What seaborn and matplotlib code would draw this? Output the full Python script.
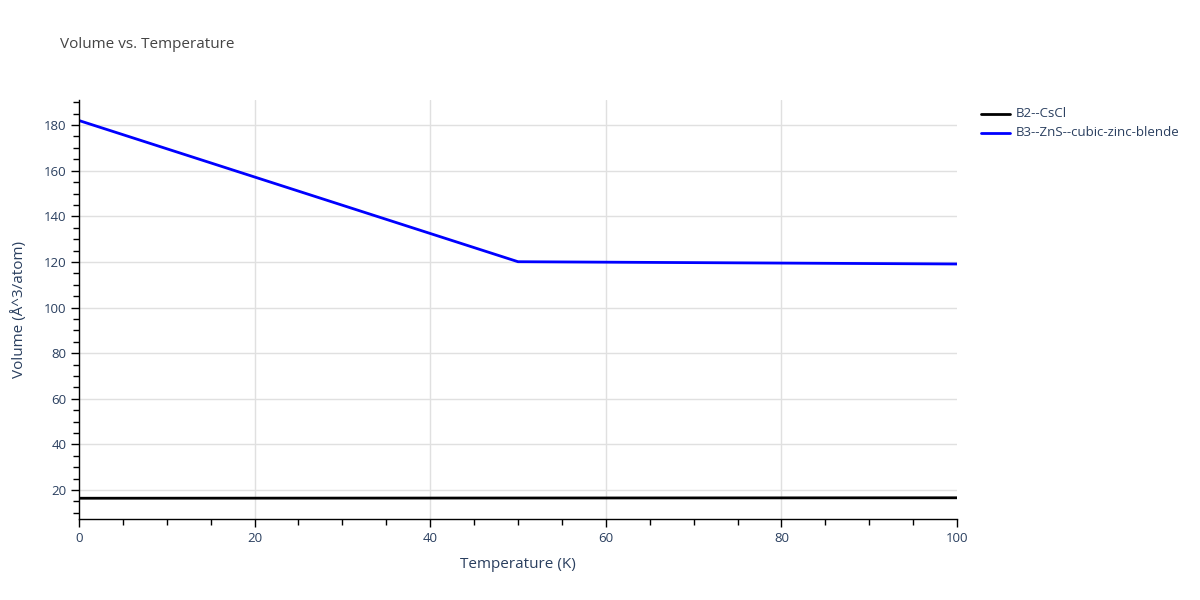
import matplotlib
matplotlib.use("Agg")
import matplotlib.pyplot as plt
import seaborn as sns
import pandas as pd
from matplotlib.ticker import MultipleLocator

# data
temps_b2 = [0, 50, 100]
vol_b2 = [16.4, 16.5, 16.6]
temps_b3 = [0, 50, 100]
vol_b3 = [182.0, 120.1, 119.1]
series_names = ["B2--CsCl", "B3--ZnS--cubic-zinc-blende"]
series_colors = ["black", "blue"]
x_ticks = [0, 20, 40, 60, 80, 100]
y_ticks = [20, 40, 60, 80, 100, 120, 140, 160, 180]

df = pd.concat([
    pd.DataFrame({"T": temps_b2, "V": vol_b2, "phase": series_names[0]}),
    pd.DataFrame({"T": temps_b3, "V": vol_b3, "phase": series_names[1]}),
])

sns.set_style("white")
plt.rcParams["font.family"] = ["Open Sans", "DejaVu Sans"]

fig = plt.figure(figsize=(12, 6), dpi=100)
ax = fig.add_axes([79 / 1200, 1 - 519 / 600, (957 - 79) / 1200, (519 - 100) / 600])

# grid drawn by hand, plotly skips the lines at the range edges
for xv in x_ticks[1:-1]:
    ax.axvline(xv, color="#e0e0e0", linewidth=1, zorder=0)
for yv in y_ticks:
    ax.axhline(yv, color="#e0e0e0", linewidth=1, zorder=0)

sns.lineplot(data=df, x="T", y="V", hue="phase", palette=series_colors,
             linewidth=2, ax=ax, legend=False)

ax.set_xlim(0, 100)
ax.set_ylim(7.3, 191)
ax.set_xticks(x_ticks)
ax.set_yticks(y_ticks)
ax.xaxis.set_minor_locator(MultipleLocator(5))
ax.yaxis.set_minor_locator(MultipleLocator(5))
ax.grid(False)

for side in ["top", "right"]:
    ax.spines[side].set_visible(False)
for side in ["left", "bottom"]:
    ax.spines[side].set_color("black")
    ax.spines[side].set_linewidth(1)

txt = "#2a3f5f"
ax.tick_params(axis="both", which="major", direction="out", length=6, width=1,
               color="black", labelsize=9.5, labelcolor=txt, bottom=True, left=True, pad=3)
ax.tick_params(axis="both", which="minor", direction="out", length=4, width=1,
               color="black", bottom=True, left=True)

ax.set_xlabel("Temperature (K)", fontsize=11, color=txt, labelpad=9)
ax.set_ylabel("Volume (Å^3/atom)", fontsize=11, color=txt, labelpad=12)

fig.text(60 / 1200, 1 - 45 / 600, "Volume vs. Temperature", fontsize=11,
         color="#444444", va="center", ha="left")

# legend
for i, (name, col) in enumerate(zip(series_names, series_colors)):
    y = 1 - (114 + 19 * i) / 600
    fig.add_artist(plt.Line2D([981 / 1200, 1010 / 1200], [y, y], color=col,
                              linewidth=2, transform=fig.transFigure))
    fig.text(1016 / 1200, y, name, fontsize=9.5, color=txt, va="center", ha="left")

fig.savefig("out.png", dpi=100)
